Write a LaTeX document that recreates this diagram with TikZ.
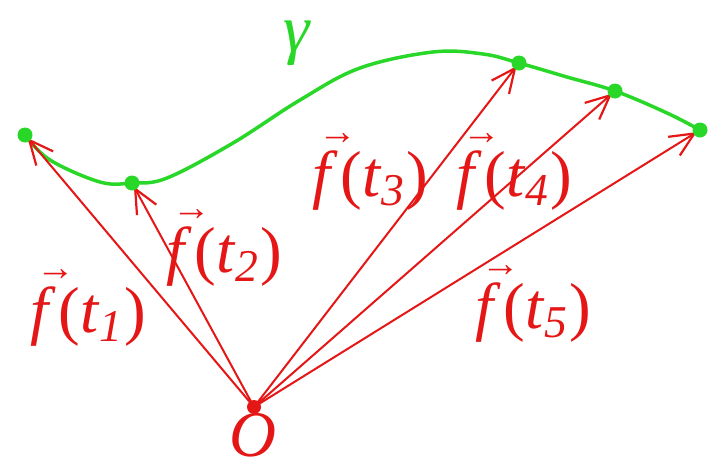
\documentclass[tikz,border=0pt]{standalone}
\usepackage{fontspec}
\setmainfont{Liberation Serif}
\usetikzlibrary{arrows.meta}
\definecolor{curvegreen}{RGB}{40,215,40}
\definecolor{vecred}{RGB}{228,22,22}
\newcommand{\vf}{\rlap{\raisebox{0.8em}{\hspace{0.1em}\fontsize{11}{11}\selectfont →}}\textit{f}\kern0.04em}
\newcommand{\lab}[1]{\vf(\textit{t}\textsubscript{\itshape #1})}
\tikzset{
  vecarrow/.style={draw=vecred, line width=0.2mm, -{Straight Barb[length=2.4mm,width=2.2mm,line width=0.22mm]}, shorten >=0.4mm},
  veclabel/.style={text=vecred, font=\fontsize{18.5}{22}\selectfont, inner sep=0pt},
  gdot/.style={fill=curvegreen},
}
\begin{document}
\begin{tikzpicture}[x=0.1mm,y=-0.1mm]
\useasboundingbox (0,0) rectangle (710,464);
\coordinate (p1) at (25,135);
\coordinate (p2) at (132,183);
\coordinate (p3) at (519,63);
\coordinate (p4) at (615,91);
\coordinate (p5) at (700,130);
\coordinate (o) at (254,407);
% curve gamma
\draw[curvegreen, line width=0.35mm] plot[smooth, tension=0.6] coordinates
  {(25,135) (50,160) (100,182) (132,183) (167,178) (233,143) (300,100) (360,68) (433,52) (483,54) (519,63) (567,77) (615,91) (667,113) (700,130)};
% vectors
\foreach \p in {p1,p2,p3,p4,p5} \draw[vecarrow] (o) -- (\p);
% dots
\foreach \p in {p1,p2,p3,p4,p5} \fill[gdot] (\p) circle (0.75mm);
\fill[vecred] (o) circle (0.7mm);
% labels
\node[veclabel] (l1) at (88,308) {\lab{1}};
\node[veclabel] (l2) at (224,248) {\lab{2}};
\node[veclabel] (l3) at (370,172) {\lab{3}};
\node[veclabel] (l4) at (514,172) {\lab{4}};
\node[veclabel] (l5) at (533,304) {\lab{5}};
\node[veclabel] (lo) at (253,435) {\textit{O}};
\node[text=curvegreen, font=\fontsize{19}{22}\selectfont\itshape, inner sep=0pt] (lg) at (297,43) {γ};
\end{tikzpicture}
\end{document}
